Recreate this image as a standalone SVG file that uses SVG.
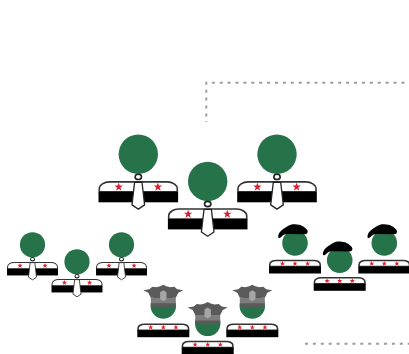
<svg xmlns="http://www.w3.org/2000/svg" width="409" height="354" viewBox="0 0 409 354">
<style>
.head{fill:#26734a}
.band{fill:#000}
.top{fill:#fff;stroke:#333;stroke-width:1.6}
.star{fill:#d9202e}
.tie{fill:#fff;stroke:#222;stroke-width:1.3;stroke-linejoin:round}
.neck{fill:#fff;stroke:#222;stroke-width:1.6}
.dots{fill:none;stroke:#9c9c9c;stroke-width:2;stroke-dasharray:3 4.9}
</style>
<defs>
<path id="s" class="star" d="M0-4.200 1.100-1.300 4.200-1.300 1.700.6 2.700 3.800 0 1.900-2.700 3.800-1.700.6-4.200-1.300-1.100-1.300Z"/>
<g id="suit">
<circle class="head" cx="0" cy="-27.600" r="19.700"/>
<ellipse class="neck" cx="0" cy="-5" rx="3.200" ry="2.600"/>
<path class="top" d="M-39 10V7C-39 3-34 0-29 0H29C34 0 39 3 39 7V10Z"/>
<rect class="band" x="-39.800" y="10" width="79.600" height="10.400"/>
<use href="#s" x="-19.600" y="5"/>
<use href="#s" x="19.600" y="5"/>
<path class="tie" d="M-3.700 .4H3.700L6.300 23 0 27.200-6.300 23Z"/>
</g>
<g id="plain">
<path class="top" d="M-25.200 6.500V4.500C-25.200 2-22 .5-19 .5H19C22 .5 25.200 2 25.200 4.500V6.500Z"/>
<rect class="band" x="-26" y="6.500" width="52" height="7"/>
<use href="#s" transform="translate(-12.600 3.500) scale(.62)"/>
<use href="#s" transform="translate(0 3.500) scale(.62)"/>
<use href="#s" transform="translate(12.600 3.500) scale(.62)"/>
</g>
<g id="officer">
<circle class="head" cx="0" cy="-17.600" r="12.700"/>
<path fill="#7d7d7d" d="M-12.500-26H12.500V-19H-12.500Z"/>
<path fill="#5a5a5a" d="M-12.500-20.500H12.500V-17.500Q0-15.500-12.500-17.500Z"/>
<path fill="#5a5a5a" d="M-20-33.500-14-34.500-11-37-7-36.500-3-37.500 0-39 3-37.500 7-36.500 11-37 14-34.500 20-33.500 15-31 12.500-26H-12.500L-15-31Z"/>
<path fill="#a6a6a6" d="M-3.200-31.500 0-33.500 3.200-31.500V-24.500L0-22.500-3.200-24.500Z"/>
<use href="#plain"/>
</g>
<g id="beret">
<circle class="head" cx="0" cy="-17" r="12.800"/>
<path fill="#000" d="M-16.800-22.500C-17-25-16-27-14.800-28.300-13-30.500-10.500-32-8.200-33.300-5-35.500-2-35.900 0-35.700 3-35.600 5-35.200 6.800-34.300 9.500-33 12-31 12.700-29 13-27 11.500-25.700 10-25.700L-6.500-26C-8.500-26-10-25.600-11.500-25-13-24-14-22.300-15.500-22-16-21.900-16.600-22-16.800-22.500Z"/>
<use href="#plain"/>
</g>
</defs>
<g id="connectors">
<path class="dots" d="M206.300 81.800V122"/>
<path class="dots" d="M211.800 82.700H409"/>
<path class="dots" d="M305 343.700H409"/>
</g>
<g id="leader-1"><use href="#suit" transform="translate(138.300 181.900)"/></g>
<g id="leader-2"><use href="#suit" transform="translate(277 181.900)"/></g>
<g id="leader-3"><use href="#suit" transform="translate(207.700 209)"/></g>
<g id="civil-1"><use href="#suit" transform="translate(32.500 262.400) scale(.64)"/></g>
<g id="civil-2"><use href="#suit" transform="translate(77 279.400) scale(.64)"/></g>
<g id="civil-3"><use href="#suit" transform="translate(121.500 262.400) scale(.64)"/></g>
<g id="officer-1"><use href="#officer" transform="translate(163.300 323.700)"/></g>
<g id="officer-2"><use href="#officer" transform="translate(207.700 341)"/></g>
<g id="officer-3"><use href="#officer" transform="translate(252.300 323.700)"/></g>
<g id="beret-1"><use href="#beret" transform="translate(295 260)"/></g>
<g id="beret-2"><use href="#beret" transform="translate(339.700 277.300)"/></g>
<g id="beret-3"><use href="#beret" transform="translate(384.300 260)"/></g>
</svg>
